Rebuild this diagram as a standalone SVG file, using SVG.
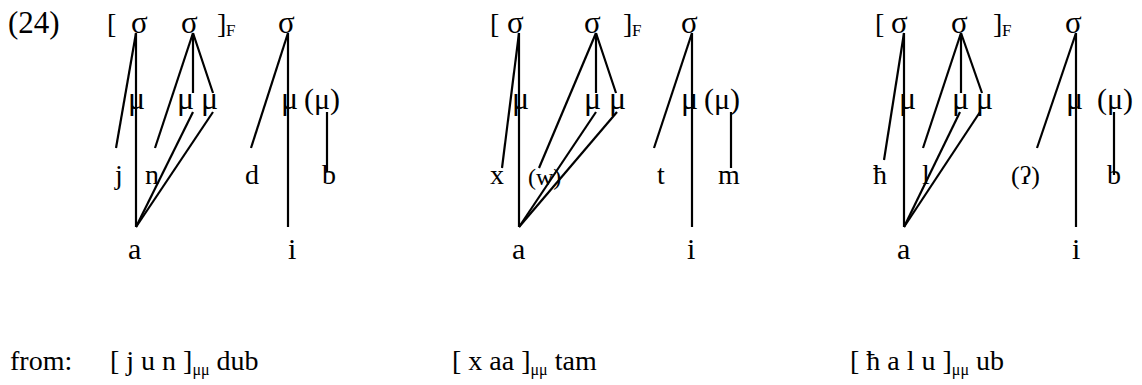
<svg xmlns="http://www.w3.org/2000/svg" width="1142" height="385" viewBox="0 0 1142 385" font-family="'Liberation Serif', 'Times New Roman', Times, serif">
<style>
text, tspan{font-family:'Liberation Serif','Times New Roman',Times,serif;fill:#000}
.s{font-size:31px}
.br{font-size:28px}
.m{font-size:32px}
.mp{font-size:30px}
.l{font-size:28px}
.v{font-size:30px}
.sub{font-size:17px}
.b{font-size:28px}
.bs{font-size:16px}
.w{font-size:24px}
#edges line{stroke:#000;stroke-width:2.2}
</style>
<rect width="1142" height="385" fill="#fff"/>
<g id="label"><text class="b" x="8" y="33" style="font-size:31px">(24)</text></g>

<g id="t1-open"><text class="br" x="107" y="33">[</text></g>
<g id="t1-s1"><text class="s" x="131" y="33">σ</text></g>
<g id="t1-s2"><text class="s" x="181" y="33">σ</text></g>
<g id="t1-close"><text class="br" x="217" y="33">]</text><text class="sub" x="226" y="36">F</text></g>
<g id="t1-s3"><text class="s" x="278" y="33">σ</text></g>
<g id="t1-m1"><text class="m" x="128" y="109">μ</text></g>
<g id="t1-m2"><text class="m" x="177" y="109">μ</text></g>
<g id="t1-m3"><text class="m" x="201" y="109">μ</text></g>
<g id="t1-m4"><text class="m" x="281" y="109">μ</text></g>
<g id="t1-m5"><text class="mp" x="304" y="109">(μ)</text></g>
<g id="t1-j"><text class="l" x="115" y="184">j</text></g>
<g id="t1-n"><text class="l" x="145" y="184">n</text></g>
<g id="t1-d"><text class="l" x="245" y="184">d</text></g>
<g id="t1-b"><text class="l" x="322" y="184">b</text></g>
<g id="t1-a"><text class="v" x="128" y="259">a</text></g>
<g id="t1-i"><text class="v" x="288" y="259">i</text></g>

<g id="t2-open"><text class="br" x="490" y="33">[</text></g>
<g id="t2-s1"><text class="s" x="507" y="33">σ</text></g>
<g id="t2-s2"><text class="s" x="584" y="33">σ</text></g>
<g id="t2-close"><text class="br" x="623" y="33">]</text><text class="sub" x="632" y="36">F</text></g>
<g id="t2-s3"><text class="s" x="681" y="33">σ</text></g>
<g id="t2-m1"><text class="m" x="512" y="109">μ</text></g>
<g id="t2-m2"><text class="m" x="584" y="109">μ</text></g>
<g id="t2-m3"><text class="m" x="609" y="109">μ</text></g>
<g id="t2-m4"><text class="m" x="681" y="109">μ</text></g>
<g id="t2-m5"><text class="mp" x="704" y="109">(μ)</text></g>
<g id="t2-x"><text class="l" x="490" y="184">x</text></g>
<g id="t2-w"><text class="w" x="528" y="185">(w)</text></g>
<g id="t2-t"><text class="l" x="657" y="184">t</text></g>
<g id="t2-mm"><text class="l" x="718" y="184">m</text></g>
<g id="t2-a"><text class="v" x="512" y="259">a</text></g>
<g id="t2-i"><text class="v" x="687" y="259">i</text></g>

<g id="t3-open"><text class="br" x="875" y="33">[</text></g>
<g id="t3-s1"><text class="s" x="891" y="33">σ</text></g>
<g id="t3-s2"><text class="s" x="951" y="33">σ</text></g>
<g id="t3-close"><text class="br" x="993" y="33">]</text><text class="sub" x="1002" y="36">F</text></g>
<g id="t3-s3"><text class="s" x="1065" y="33">σ</text></g>
<g id="t3-m1"><text class="m" x="899" y="109">μ</text></g>
<g id="t3-m2"><text class="m" x="952" y="109">μ</text></g>
<g id="t3-m3"><text class="m" x="976" y="109">μ</text></g>
<g id="t3-m4"><text class="m" x="1066" y="109">μ</text></g>
<g id="t3-m5"><text class="mp" x="1097" y="109">(μ)</text></g>
<g id="t3-h"><text class="l" x="873" y="184">ħ</text></g>
<g id="t3-l"><text class="l" x="922" y="184">l</text></g>
<g id="t3-q"><text class="l" x="1011" y="184" style="font-size:26px">(ʔ)</text></g>
<g id="t3-b"><text class="l" x="1107" y="184">b</text></g>
<g id="t3-a"><text class="v" x="897" y="259">a</text></g>
<g id="t3-i"><text class="v" x="1072" y="259">i</text></g>

<g id="from1"><text class="b" x="10" y="370">from:</text><text class="b" x="110" y="370">[ j u n ]<tspan class="bs" dy="5">μμ</tspan><tspan dy="-5"> dub</tspan></text></g>
<g id="from2"><text class="b" x="452" y="370">[ x aa ]<tspan class="bs" dy="5">μμ</tspan><tspan dy="-5"> tam</tspan></text></g>
<g id="from3"><text class="b" x="850" y="370">[ ħ a l u ]<tspan class="bs" dy="5">μμ</tspan><tspan dy="-5"> ub</tspan></text></g>

<g id="edges">
<line x1="136" y1="33" x2="116" y2="148"/>
<line x1="136" y1="33" x2="136" y2="227"/>
<line x1="193" y1="33" x2="155" y2="148"/>
<line x1="193" y1="33" x2="193" y2="93"/>
<line x1="193" y1="33" x2="213" y2="93"/>
<line x1="193" y1="112" x2="136" y2="227"/>
<line x1="213" y1="112" x2="136" y2="227"/>
<line x1="288" y1="33" x2="251" y2="148"/>
<line x1="288" y1="33" x2="288" y2="227"/>
<line x1="327" y1="112" x2="327" y2="172"/>

<line x1="519" y1="33" x2="502" y2="168"/>
<line x1="519" y1="33" x2="519" y2="227"/>
<line x1="596" y1="33" x2="539" y2="168"/>
<line x1="596" y1="33" x2="596" y2="93"/>
<line x1="596" y1="33" x2="616" y2="93"/>
<line x1="596" y1="112" x2="519" y2="227"/>
<line x1="617" y1="112" x2="519" y2="227"/>
<line x1="692" y1="33" x2="654" y2="148"/>
<line x1="692" y1="33" x2="692" y2="227"/>
<line x1="731" y1="112" x2="731" y2="168"/>

<line x1="904" y1="33" x2="884" y2="160"/>
<line x1="904" y1="33" x2="904" y2="227"/>
<line x1="961" y1="33" x2="923" y2="148"/>
<line x1="961" y1="33" x2="961" y2="93"/>
<line x1="961" y1="33" x2="982" y2="93"/>
<line x1="960" y1="112" x2="904" y2="227"/>
<line x1="980" y1="112" x2="904" y2="227"/>
<line x1="1076" y1="33" x2="1037" y2="148"/>
<line x1="1076" y1="33" x2="1076" y2="227"/>
<line x1="1114" y1="112" x2="1114" y2="175"/>
</g>
</svg>
